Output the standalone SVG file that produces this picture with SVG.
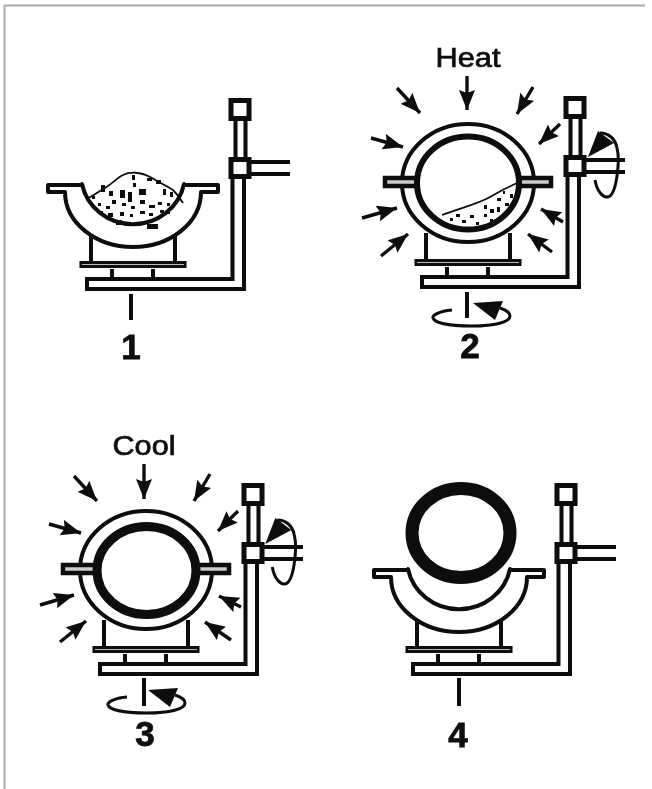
<svg xmlns="http://www.w3.org/2000/svg" xmlns:xlink="http://www.w3.org/1999/xlink" width="652" height="789" viewBox="0 0 652 789">
<style>
.ln{fill:none;stroke:#0c0c0c;stroke-width:4;stroke-linejoin:miter}
.sp{fill:none;stroke:#0c0c0c;stroke-width:3}
.wh{fill:#fff;stroke:#0c0c0c;stroke-width:4}
.sq{fill:#fff;stroke:#0c0c0c;stroke-width:5}
.ar{stroke:#0c0c0c;stroke-width:3.400;fill:none;marker-end:url(#ah)}
.hd{fill:#0c0c0c}
.dot{fill:#111}
.top{fill:none;stroke:#0c0c0c;stroke-width:1.800}
.num{font-family:"Liberation Sans",Arial,sans-serif;font-weight:700;font-size:35px;text-anchor:middle;fill:#0c0c0c;stroke:#0c0c0c;stroke-width:.8}
.cap{font-family:"Liberation Sans",Arial,sans-serif;font-size:27px;text-anchor:middle;fill:#0c0c0c;stroke:#0c0c0c;stroke-width:.7}
</style>
<defs>
<filter id="soft" x="-5%" y="-5%" width="110%" height="110%"><feGaussianBlur stdDeviation="0.45"/></filter>
<marker id="ah" markerUnits="userSpaceOnUse" markerWidth="24" markerHeight="18" refX="20" refY="8" orient="auto"><path d="M0,0 L20,8 L0,16 L3,8 Z" fill="#0c0c0c"/></marker>
<g id="stand">
  <path class="ln" d="M102.500,-70V-20M112.500,-70V-20"/>
  <path class="ln" d="M117,-23H157M117,-11H157"/>
  <path class="wh" d="M-46,94H99.500V-10H111V104H-46Z"/>
  <rect class="sq" x="98" y="-84.500" width="18" height="18"/>
  <rect class="sq" x="98" y="-25.500" width="18" height="17"/>
  <path class="ln" d="M-21,84V94M20,84V94"/>
  <path class="ln" d="M-42,50V78M42,50V78"/>
  <rect x="-52" y="77.500" width="104" height="4" fill="#bbb" stroke="#0c0c0c" stroke-width="3"/>
</g>
<g id="bowl">
  <path d="M-85,0H-51V-1A52,50 0 0 0 51,-1V0H85V7H68A68,55 0 0 1 -68,7H-85Z" fill="#fff" stroke="#0c0c0c" stroke-width="4" stroke-linejoin="round"/>
</g>
<g id="shell">
  <ellipse class="ln" cx="0" cy="0" rx="66" ry="59"/>
  <rect x="-83" y="-5" width="36" height="8" fill="#ccc" stroke="#0c0c0c" stroke-width="4.500"/>
  <rect x="47" y="-5" width="36" height="8" fill="#ccc" stroke="#0c0c0c" stroke-width="4.500"/>
</g>
<g id="spinR"><path class="sp" d="M595,180C597,192 603,197 607,197C617,197 620,160 617,148C615,138 608,133 600,133"/><path class="hd" d="M588,157L598,131L614,143Z"/></g>
<g id="spinB"><path class="sp" d="M452,310C438,311 432,316 433,318C435,324 455,326 472,326C495,326 510,322 510,316C510,313 506,310 500,308"/><path class="hd" d="M473,303L503,301L495,320Z"/></g>
<g id="powderDots">
  <rect class="dot" x="-33" y="-12" width="4" height="7"/><rect class="dot" x="-42" y="-1" width="3" height="3"/><rect class="dot" x="-25" y="-6" width="4" height="5"/>
  <rect class="dot" x="-14" y="-7" width="5" height="8"/><rect class="dot" x="-6" y="-5" width="4" height="10"/><rect class="dot" x="5" y="-8" width="7" height="6"/>
  <rect class="dot" x="-2" y="-22" width="3" height="5"/><rect class="dot" x="-1" y="-14" width="3" height="4"/><rect class="dot" x="13" y="-19" width="5" height="3"/>
  <rect class="dot" x="22" y="-17" width="5" height="4"/><rect class="dot" x="29" y="-8" width="3" height="6"/><rect class="dot" x="36" y="-5" width="3" height="5"/>
  <rect class="dot" x="-36" y="6" width="3" height="3"/><rect class="dot" x="-28" y="9" width="4" height="3"/><rect class="dot" x="-22" y="3" width="4" height="4"/>
  <rect class="dot" x="-12" y="6" width="4" height="3"/><rect class="dot" x="-3" y="9" width="4" height="3"/><rect class="dot" x="6" y="3" width="5" height="4"/>
  <rect class="dot" x="15" y="8" width="6" height="3"/><rect class="dot" x="24" y="5" width="4" height="3"/><rect class="dot" x="33" y="6" width="3" height="3"/>
  <rect class="dot" x="-26" y="16" width="5" height="4"/><rect class="dot" x="-14" y="15" width="4" height="4"/><rect class="dot" x="-4" y="17" width="3" height="3"/>
  <rect class="dot" x="6" y="14" width="5" height="3"/><rect class="dot" x="15" y="16" width="4" height="3"/><rect class="dot" x="26" y="13" width="4" height="3"/>
  <rect class="dot" x="-18" y="23" width="6" height="5"/><rect class="dot" x="-8" y="26" width="3" height="3"/><rect class="dot" x="0" y="25" width="3" height="3"/>
  <rect class="dot" x="13" y="27" width="11" height="5"/><rect class="dot" x="-34" y="14" width="3" height="3"/><rect class="dot" x="33" y="14" width="3" height="3"/>
</g>
</defs>
<rect width="652" height="789" fill="#fff"/>
<path d="M4.500,789V5.500H645" fill="none" stroke="#aaa" stroke-width="2"/>
<g filter="url(#soft)">
<g id="step1">
  <use xlink:href="#stand" href="#stand" x="133" y="185"/>
  <use xlink:href="#bowl" href="#bowl" x="133" y="185"/>
  <path class="top" d="M87,199L105,188C113,183 117,178 123,175C129,172 140,171 152,178C160,183 167,186 173,190C177,194 180,198 183,203"/>
  <use xlink:href="#powderDots" href="#powderDots" x="134" y="197"/>
  <path class="ln" d="M131,294V320"/>
  <text class="num" x="131" y="359">1</text>
</g>
<g id="step2">
  <use xlink:href="#stand" href="#stand" x="468" y="183"/>
  <ellipse cx="468" cy="183" rx="66" ry="59" fill="#fff" stroke="none"/>
  <use xlink:href="#shell" href="#shell" x="468" y="183"/>
  <ellipse cx="468" cy="183" rx="51" ry="46.500" fill="#fff" stroke="#0c0c0c" stroke-width="6"/>
  <path class="top" d="M442,215C460,208 478,204 490,197C500,191 508,187 517,183"/>
  <g class="dots">
    <rect class="dot" x="450" y="218" width="3" height="3"/><rect class="dot" x="456" y="214" width="4" height="3"/><rect class="dot" x="462" y="220" width="4" height="3"/>
    <rect class="dot" x="470" y="215" width="4" height="3"/><rect class="dot" x="476" y="222" width="3" height="3"/><rect class="dot" x="484" y="214" width="3" height="3"/>
    <rect class="dot" x="484" y="205" width="3" height="4"/><rect class="dot" x="490" y="209" width="4" height="4"/><rect class="dot" x="497" y="198" width="4" height="3"/>
    <rect class="dot" x="497" y="207" width="3" height="5"/><rect class="dot" x="505" y="203" width="4" height="3"/><rect class="dot" x="510" y="194" width="3" height="4"/>
    <rect class="dot" x="503" y="191" width="2" height="3"/><rect class="dot" x="490" y="219" width="3" height="3"/><rect class="dot" x="448" y="224" width="3" height="2"/>
  </g>
  <g id="heatArrows">
    <path class="ar" d="M467,76V110"/><path class="ar" d="M397,88L420,113"/><path class="ar" d="M533,87L517,114"/>
    <path class="ar" d="M560,124L539,144"/><path class="ar" d="M371,138L403,147"/><path class="ar" d="M362,218L397,208"/>
    <path class="ar" d="M381,256L408,234"/><path class="ar" d="M563,222L541,209"/><path class="ar" d="M552,252L528,234"/>
  </g>
  <text class="cap" x="468" y="67" textLength="65" lengthAdjust="spacingAndGlyphs">Heat</text>
  <g id="spin2">
    <path class="ln" d="M467,292V318"/>
    <use xlink:href="#spinB" href="#spinB"/>
    <use xlink:href="#spinR" href="#spinR"/>
  </g>
  <text class="num" x="470" y="358">2</text>
</g>
<g id="step3">
  <use xlink:href="#stand" href="#stand" x="146" y="570"/>
  <ellipse cx="146" cy="570" rx="66" ry="60" fill="#fff" stroke="none"/>
  <use xlink:href="#shell" href="#shell" x="146" y="570"/>
  <ellipse cx="146.500" cy="570.500" rx="49.500" ry="44" fill="#fff" stroke="#0c0c0c" stroke-width="9"/>
  <g id="coolArrows">
    <path class="ar" d="M144,464V499"/><path class="ar" d="M74,476L97,501"/><path class="ar" d="M210,474L194,501"/>
    <path class="ar" d="M238,511L218,531"/><path class="ar" d="M49,524L81,533"/><path class="ar" d="M40,605L74,595"/>
    <path class="ar" d="M60,642L86,621"/><path class="ar" d="M241,607L219,596"/><path class="ar" d="M231,640L205,622"/>
  </g>
  <text class="cap" x="144" y="455" textLength="63" lengthAdjust="spacingAndGlyphs">Cool</text>
  <g id="spin3">
    <path class="ln" d="M144,678V706"/>
    <use xlink:href="#spinB" href="#spinB" transform="translate(-325,387)"/>
    <use xlink:href="#spinR" href="#spinR" transform="translate(-322.700,387)"/>
  </g>
  <text class="num" x="145" y="746">3</text>
</g>
<g id="step4">
  <use xlink:href="#stand" href="#stand" x="459" y="570"/>
  <use xlink:href="#bowl" href="#bowl" x="459" y="570"/>
  <ellipse id="ring4" cx="461" cy="533" rx="49" ry="44.500" fill="#fff" stroke="#0c0c0c" stroke-width="13"/>
  <path class="ln" d="M459,678V706"/>
  <text class="num" x="458" y="747">4</text>
</g>
</g>
</svg>
